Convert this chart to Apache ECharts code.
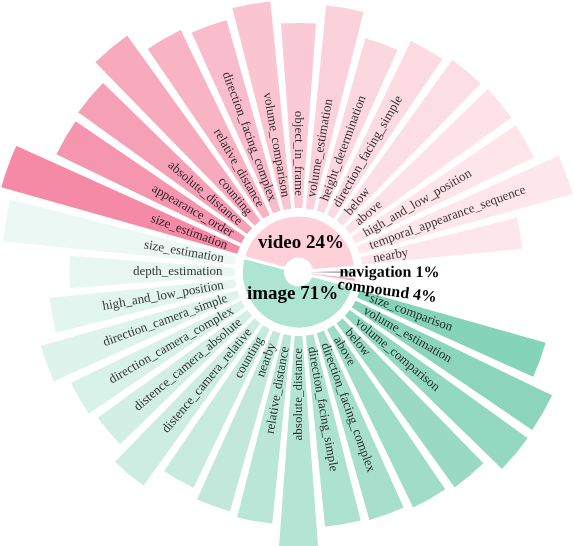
<!DOCTYPE html>
<html>
<head>
<meta charset="utf-8">
<script src="https://cdn.jsdelivr.net/npm/echarts@6/dist/echarts.min.js"></script>
<style>
html,body{margin:0;padding:0;background:#fff;}
#chart{width:574px;height:546px;}
</style>
</head>
<body>
<div id="chart"></div>
<script>
// ---- data ----
const videoCats = ['nearby','temporal_appearance_sequence','high_and_low_position','above','below',
  'direction_facing_simple','height_determination','volume_estimation','object_in_frame','volume_comparison',
  'direction_facing_complex','relative_distance','counting','absolute_distance','appearance_order','size_estimation'];
const videoVals = [163,223,200,201,200,195,181,206,187,210,200,207,230,210,207,247];

const imageCats = ['size_estimation','depth_estimation','high_and_low_position','direction_camera_simple',
  'direction_camera_complex','distence_camera_absolute','distence_camera_relative','counting','nearby',
  'relative_distance','absolute_distance','direction_facing_simple','direction_facing_complex','above','below',
  'volume_comparison','volume_estimation','size_comparison'];
const imageVals = [235,167,188,206,191,186,202,178,187,191,222,194,196,200,204,221,220,195];

const groupNames = ['video','image','navigation','compound'];
const groupPercents = [24,71,1,4];
// ---- layout / style ----
const CX = 298.5, CY = 272;
const SLOT_DEG = 10;
const serif = '"Liberation Serif","Times New Roman",serif';

function hex2rgb(h){h=h.replace('#','');return [0,2,4].map(i=>parseInt(h.substr(i,2),16));}
function mix(a,b,t){const A=hex2rgb(a),B=hex2rgb(b);return 'rgb('+A.map((v,i)=>Math.round(v+(B[i]-v)*t)).join(',')+')';}

// slots ccw from 5deg: video(16), image(18), compound, navigation
const slotKeys = [];
const barData = [];
const labelData = [];
function pushSlot(key, text, val, color){
  const idx = slotKeys.length;
  slotKeys.push(key);
  barData.push(val == null ? '-' : {value: val, itemStyle: {color: color}});
  if (text){
    let ang = 5 + SLOT_DEG * (idx + 0.5);
    ang = ((ang % 360) + 360) % 360;
    const left = ang >= 90 && ang <= 270;
    labelData.push({
      value: [13, idx],
      label: {
        show: true,
        formatter: text,
        position: left ? 'left' : 'right',
        distance: 0,
        align: left ? 'right' : 'left',
        verticalAlign: 'middle',
        rotate: left ? ang - 180 : (ang > 270 ? ang - 360 : ang)
      }
    });
  }
}
videoCats.forEach((c,i)=>{
  const t = Math.pow(i/(videoCats.length-1), 1.9);
  pushSlot('v_'+c, c, videoVals[i], mix('#fde7ec','#f48aa6',t));
});
imageCats.forEach((c,i)=>{
  const t = Math.pow(i/(imageCats.length-1), 1.15);
  pushSlot('i_'+c, c, imageVals[i], mix('#ecf8f4','#85d3b8',t));
});
pushSlot('compound', null, null);
pushSlot('navigation', null, null);

// inner pie: spans in slots (video/image sized by their number of bars)
const pieItems = [
  {name:'image', span:imageCats.length, color:'#aee5d2', r:20, rot:false, size:19},
  {name:'', span:0.6},
  {name:'compound', span:0.25, color:'#f6b3c4', r:88, rot:true, size:16},
  {name:'', span:0.5},
  {name:'navigation', span:0.25, color:'#a9b1b1', r:88, rot:true, size:16},
  {name:'', span:0.4},
  {name:'video', span:videoCats.length, color:'#fdd0da', r:26, rot:false, size:19}
];
let acc = 165;
pieItems.forEach(p=>{ p.mid = acc + p.span*SLOT_DEG/2; acc += p.span*SLOT_DEG; });
const pieData = pieItems.map(p=>{
  if (!p.name) return {value:p.span, name:'', itemStyle:{color:'rgba(0,0,0,0)', borderWidth:0}, label:{show:false}};
  const gi = groupNames.indexOf(p.name);
  let rot = 0;
  if (p.rot){ rot = ((p.mid % 360)+360)%360; if (rot>180) rot -= 360; }
  return {
    value:p.span, name:p.name,
    itemStyle:{color:p.color, borderWidth: p.rot ? 0 : 3},
    label:{show:true, formatter: p.name+' '+groupPercents[gi]+'%', fontSize:p.size, rotate:rot}
  };
});

const chart = echarts.init(document.getElementById('chart'), null, {renderer:'canvas'});
chart.setOption({
  animation:false,
  backgroundColor:'#fff',
  polar:{center:[CX,CY], radius:[63,313]},
  angleAxis:{type:'category', data:slotKeys, startAngle:5, clockwise:false, boundaryGap:true,
    axisLine:{show:false}, axisTick:{show:false}, axisLabel:{show:false}, splitLine:{show:false}},
  radiusAxis:{type:'value', min:0, max:250,
    axisLine:{show:false}, axisTick:{show:false}, axisLabel:{show:false}, splitLine:{show:false}},
  series:[
    {
      type:'bar', coordinateSystem:'polar', data:barData, barCategoryGap:'15%', silent:true,
      itemStyle:{borderColor:'#fff', borderWidth:1.8}
    },
    {
      type:'scatter', coordinateSystem:'polar', data:labelData, symbolSize:0, silent:true, z:5,
      label:{show:true, fontFamily:serif, fontSize:13, color:'#000'}
    },
    {
      type:'pie', center:[CX,CY], radius:[13,57], startAngle:165, clockwise:false, silent:true, z:6,
      itemStyle:{borderColor:'#fff', borderWidth:3},
      label:{position:'inside', fontFamily:serif, fontWeight:'bold', color:'#000'},
      labelLine:{show:false},
      emphasis:{disabled:true},
      data:pieData,
      labelLayout:function(params){
        const p = pieItems[params.dataIndex];
        if (!p || !p.name) return {};
        const d = p.r - 35;
        const a = p.mid*Math.PI/180;
        return {dx: d*Math.cos(a), dy: -d*Math.sin(a)};
      }
    }
  ]
});
</script>
</body>
</html>
